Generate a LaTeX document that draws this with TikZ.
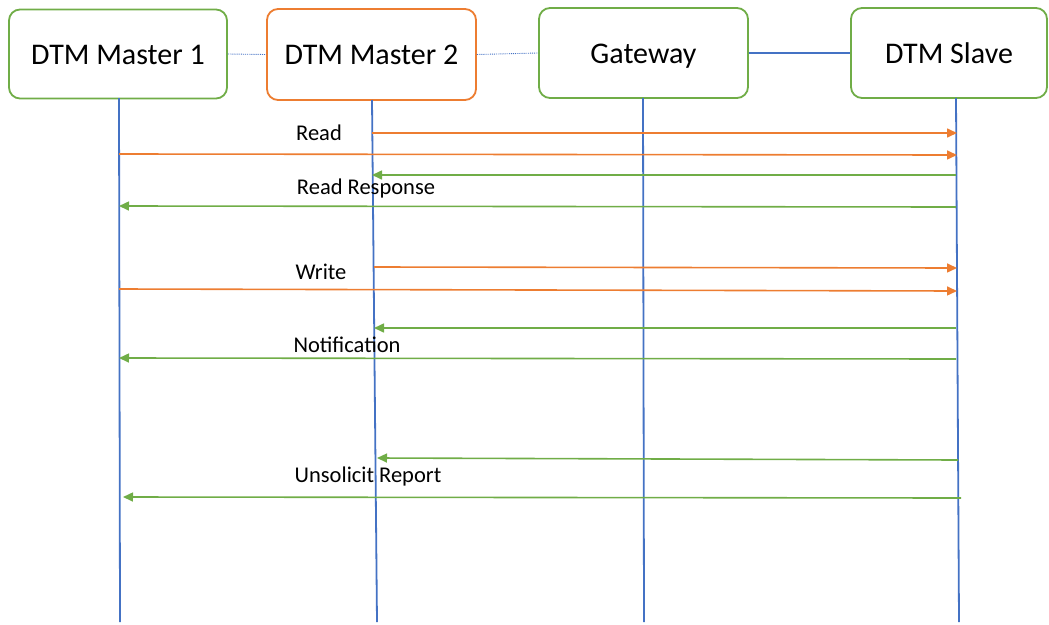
\documentclass[tikz,border=0pt]{standalone}
\usepackage{fontspec}
\setmainfont{Carlito}
\usetikzlibrary{arrows.meta}
\definecolor{cgreen}{HTML}{70AD47}
\definecolor{corange}{HTML}{ED7D31}
\definecolor{cblue}{HTML}{4472C4}
\tikzset{
  actor/.style={draw=cgreen, line width=1.8pt, rounded corners=11pt, fill=white, minimum height=89pt, font=\fontsize{30}{36}\selectfont, inner sep=0pt, text height=23pt, text depth=3pt},
  life/.style={draw=cblue, line width=1.8pt},
  req/.style={draw=corange, line width=1.6pt, -{Triangle[length=10pt,width=9pt]}},
  resp/.style={draw=cgreen, line width=1.6pt, -{Triangle[length=10pt,width=9pt]}},
  lbl/.style={font=\fontsize{22.5}{27}\selectfont, inner sep=0pt},
  link/.style={draw=cblue, line width=0.9pt, densely dotted},
}
\begin{document}
\begin{tikzpicture}[x=1pt,y=-1pt]
\useasboundingbox (0,0) rectangle (1049,624);
% actors
\node[actor, minimum width=218pt] (m1) at (118,54) {DTM Master 1};
\node[actor, draw=corange, minimum width=209pt, minimum height=91pt] (m2) at (371.5,54.5) {DTM Master 2};
\node[actor, minimum width=209pt, minimum height=90pt] (gw) at (643.5,53) {Gateway};
\node[actor, minimum width=196pt, minimum height=90pt] (sl) at (949,53) {DTM Slave};
% links between actors
\draw[link] (m1.east) -- (m2.west);
\draw[link] (m2.east) -- (gw.west);
\draw[draw=cblue, line width=1.8pt] (gw.east) -- (sl.west);
% lifeline ends
\coordinate (m1t) at (119,98);  \coordinate (m1b) at (120,622);
\coordinate (m2t) at (372,100); \coordinate (m2b) at (377,622);
\coordinate (gwt) at (643,98);  \coordinate (gwb) at (644,622);
\coordinate (slt) at (956,98);  \coordinate (slb) at (959,622);
\draw[life] (m1t) -- (m1b);
\draw[life] (m2t) -- (m2b);
\draw[life] (gwt) -- (gwb);
\draw[life] (slt) -- (slb);
% message endpoints
\coordinate (r1a) at (372,133); \coordinate (r1b) at (957,133);
\coordinate (r2a) at (119,154); \coordinate (r2b) at (957,155);
\coordinate (r3a) at (956,175); \coordinate (r3b) at (372,175);
\coordinate (r4a) at (956,207); \coordinate (r4b) at (119,206);
\coordinate (w1a) at (374,267); \coordinate (w1b) at (957,268);
\coordinate (w2a) at (119,289); \coordinate (w2b) at (957,291);
\coordinate (w3a) at (956,328); \coordinate (w3b) at (374,328);
\coordinate (w4a) at (956,359); \coordinate (w4b) at (119,358);
\coordinate (u1a) at (958,460); \coordinate (u1b) at (377,458);
\coordinate (u2a) at (961,498); \coordinate (u2b) at (123,497);
\draw[req] (r1a) -- (r1b);
\draw[req] (r2a) -- (r2b);
\draw[resp] (r3a) -- (r3b);
\draw[resp] (r4a) -- (r4b);
\draw[req] (w1a) -- (w1b);
\draw[req] (w2a) -- (w2b);
\draw[resp] (w3a) -- (w3b);
\draw[resp] (w4a) -- (w4b);
\draw[resp] (u1a) -- (u1b);
\draw[resp] (u2a) -- (u2b);
% labels
\node[lbl] (lr) at (319,133) {Read};
\node[lbl] (lrr) at (366,188) {Read Response};
\node[lbl] (lw) at (321,272) {Write};
\node[lbl] (ln) at (347,345) {Notification};
\node[lbl] (lu) at (368,476) {Unsolicit Report};
\end{tikzpicture}
\end{document}
